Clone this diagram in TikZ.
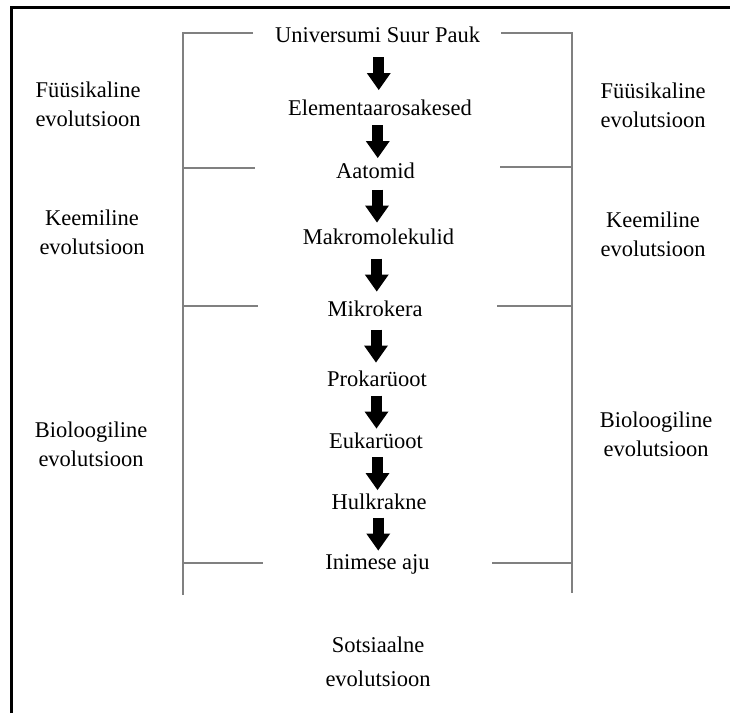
\documentclass[tikz,border=0pt]{standalone}
\usepackage{fontspec}
\setmainfont{Liberation Serif}
\usetikzlibrary{arrows.meta,calc}
\begin{document}
\begin{tikzpicture}[x=1pt,y=-1pt,
  every node/.style={inner sep=0pt, font=\fontsize{22.5}{29}\selectfont},
  stage/.style={anchor=base, text height=15pt, text depth=0pt},
  side/.style={align=center},
  bracket/.style={draw=black!50, line width=1.1pt},
  flow/.style={line width=11pt, -{Triangle[width=24pt,length=17pt,line width=0pt]}},
  frame/.style={line width=3pt}]
\useasboundingbox (0,0) rectangle (730,713);
\draw[frame] (11.5,713) -- (11.5,7.5) -- (730,7.5);

% chain of stages
\node[stage] (u)  at (377.5,42)  {Universumi Suur Pauk};
\node[stage] (e)  at (380,115)   {Elementaarosakesed};
\node[stage] (at) at (375.5,178) {Aatomid};
\node[stage] (ma) at (378.5,244) {Makromolekulid};
\node[stage] (mi) at (375,316)   {Mikrokera};
\node[stage] (pr) at (377,386)   {Prokarüoot};
\node[stage] (eu) at (376,448)   {Eukarüoot};
\node[stage] (hu) at (379,509)   {Hulkrakne};
\node[stage] (in) at (377.5,569) {Inimese aju};

\foreach \a/\b in {u/e, e/at, at/ma, ma/mi, mi/pr, pr/eu, eu/hu, hu/in}
  \draw[flow] ($(\a.south)!.5!(\b.north)+(0,-14)$) -- ($(\a.south)!.5!(\b.north)+(0,19)$);

% brackets
\draw[bracket] (253,33) -- (183,33) -- (183,595);
\draw[bracket] (183,168) -- (255,168);
\draw[bracket] (183,306) -- (258,306);
\draw[bracket] (183,563) -- (263,563);
\draw[bracket] (501,33) -- (572,33) -- (572,593);
\draw[bracket] (500,167) -- (572,167);
\draw[bracket] (497,306) -- (572,306);
\draw[bracket] (492,563) -- (572,563);

% side labels
\node[side] (fL) at (88,104)  {Füüsikaline\\evolutsioon};
\node[side] (fR) at (653,105) {Füüsikaline\\evolutsioon};
\node[side] (kL) at (92,232)  {Keemiline\\evolutsioon};
\node[side] (kR) at (653,234) {Keemiline\\evolutsioon};
\node[side] (bL) at (91,444)  {Bioloogiline\\evolutsioon};
\node[side] (bR) at (656,434) {Bioloogiline\\evolutsioon};
\node[side, font=\fontsize{22.5}{34}\selectfont] (so) at (378,662) {Sotsiaalne\\evolutsioon};
\end{tikzpicture}
\end{document}
